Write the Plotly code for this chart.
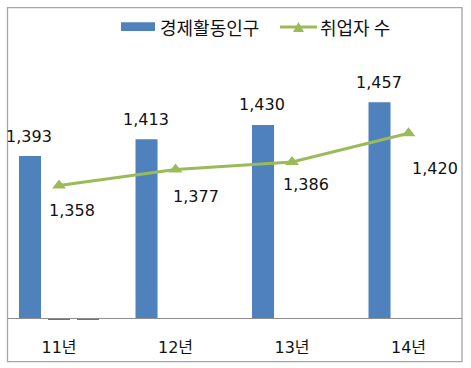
import plotly.graph_objects as go

# ---- data ----
categories = ["11년", "12년", "13년", "14년"]
econ_active = [1393, 1413, 1430, 1457]      # 경제활동인구 (bars)
employed = [1358, 1377, 1386, 1420]         # 취업자 수 (line)
other_a = [1198.6, None, None, None]        # tiny stray series (red)
other_b = [1198.6, None, None, None]        # tiny stray series (purple)

AXIS_MIN = 1200
AXIS_MAX = 1500

# ---- style / layout constants ----
W_TOTAL, H_TOTAL = 471, 368
M_L, M_R, M_T, M_B = 8, 9, 66, 47
PW = W_TOTAL - M_L - M_R
PH = H_TOTAL - M_T - M_B
BARGAP = 0.253
BARGROUPGAP = 0.24
FONT = "DejaVu Sans, Noto Sans CJK KR"
KFONT = "Noto Sans CJK KR"
TXT = "#111111"
BLUE = "#4F81BD"
GREEN = "#9BBB59"
RED = "#C0504D"
PURPLE = "#8064A2"
NUM_SIZE = 16
KOR_SIZE = 18

# label offsets (px) for line labels, per point
line_label_shift = [(13, -25), (20, -27), (14, -23), (26, -35)]


def px_x(p):
    return (p - M_L) / PW


def px_y(p):
    return (H_TOTAL - M_B - p) / PH


xs = list(range(len(categories)))
slot = (1 - BARGAP) / 3

fig = go.Figure()
fig.add_trace(go.Bar(
    x=xs, y=[v - AXIS_MIN for v in econ_active], base=AXIS_MIN,
    marker=dict(color=BLUE, line=dict(width=0)), name="경제활동인구",
    showlegend=False,
))
fig.add_trace(go.Bar(
    x=xs, y=[(v - AXIS_MIN) if v is not None else None for v in other_a], base=AXIS_MIN,
    marker=dict(color=RED, line=dict(width=0)), showlegend=False,
))
fig.add_trace(go.Bar(
    x=xs, y=[(v - AXIS_MIN) if v is not None else None for v in other_b], base=AXIS_MIN,
    marker=dict(color=PURPLE, line=dict(width=0)), showlegend=False,
))
fig.add_trace(go.Scatter(
    x=xs, y=employed, mode="lines+markers", name="취업자 수",
    line=dict(color=GREEN, width=3),
    marker=dict(symbol="triangle-up", size=12, color=GREEN),
    showlegend=False,
))

annotations = []
for i, v in enumerate(econ_active):
    annotations.append(dict(
        x=i - slot, y=v, xref="x", yref="y", text=f"{v:,}", showarrow=False,
        yshift=20, xshift=-1, xanchor="center", yanchor="middle",
        font=dict(family=FONT, size=NUM_SIZE, color=TXT),
    ))
for i, v in enumerate(employed):
    dx, dy = line_label_shift[i]
    annotations.append(dict(
        x=i, y=v, xref="x", yref="y", text=f"{v:,}", showarrow=False,
        xshift=dx, yshift=dy, xanchor="center", yanchor="middle",
        font=dict(family=FONT, size=NUM_SIZE, color=TXT),
    ))

# custom legend text
annotations.append(dict(
    x=px_x(158), y=px_y(26.7), xref="paper", yref="paper", text="경제활동인구",
    showarrow=False, xanchor="left", yanchor="middle",
    font=dict(family=KFONT, size=KOR_SIZE, color=TXT),
))
annotations.append(dict(
    x=px_x(318), y=px_y(26.7), xref="paper", yref="paper", text="취업자 수",
    showarrow=False, xanchor="left", yanchor="middle",
    font=dict(family=KFONT, size=KOR_SIZE, color=TXT),
))

shapes = [
    # outer frame
    dict(type="rect", xref="paper", yref="paper",
         x0=px_x(7.5), x1=px_x(462), y0=px_y(361.7), y1=px_y(7.7),
         line=dict(color="#A6A6A6", width=1.3), fillcolor="rgba(0,0,0,0)"),
    # baseline (category axis)
    dict(type="line", xref="paper", yref="y", x0=0, x1=1, y0=AXIS_MIN, y1=AXIS_MIN,
         line=dict(color="#8C8C8C", width=1)),
    # legend: bar swatch
    dict(type="rect", xref="paper", yref="paper",
         x0=px_x(121), x1=px_x(155), y0=px_y(31), y1=px_y(22.3),
         line=dict(width=0), fillcolor=BLUE),
    # legend: line swatch
    dict(type="line", xref="paper", yref="paper",
         x0=px_x(280), x1=px_x(317), y0=px_y(27), y1=px_y(27),
         line=dict(color=GREEN, width=3)),
    dict(type="path", xref="paper", yref="paper",
         path=(f"M {px_x(293)} {px_y(32)} L {px_x(304)} {px_y(32)} "
               f"L {px_x(298.5)} {px_y(22)} Z"),
         line=dict(width=0), fillcolor=GREEN),
]

fig.update_layout(
    width=W_TOTAL, height=H_TOTAL,
    margin=dict(l=M_L, r=M_R, t=M_T, b=M_B),
    paper_bgcolor="white", plot_bgcolor="white",
    barmode="group", bargap=BARGAP, bargroupgap=BARGROUPGAP,
    showlegend=False,
    font=dict(family=FONT, size=16, color=TXT),
    annotations=annotations, shapes=shapes,
    xaxis=dict(
        range=[-0.438, 3.459],
        tickmode="array", tickvals=xs, ticktext=categories,
        showgrid=False, zeroline=False, showline=False, ticks="",
        tickfont=dict(family=FONT, size=16, color=TXT),
        ticklabelstandoff=15,
    ),
    yaxis=dict(
        range=[AXIS_MIN - 3, AXIS_MAX], showgrid=False, zeroline=False,
        showline=False, showticklabels=False, ticks="",
    ),
)

fig.write_html(
    "out.html",
    config={"displayModeBar": False},
    post_script="document.body.style.margin='0';document.body.style.overflow='hidden';",
)
